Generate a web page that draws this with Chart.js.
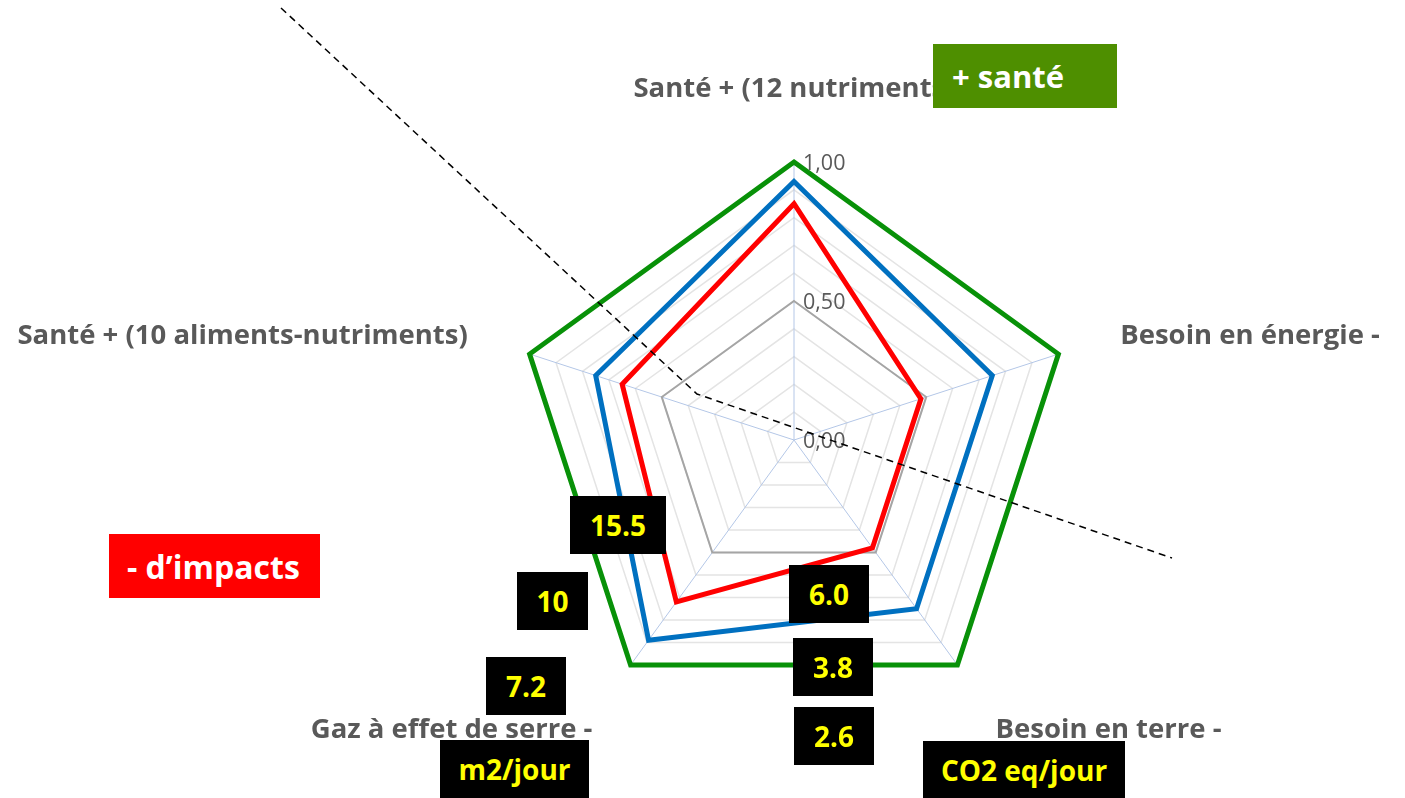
<!DOCTYPE html>
<html lang="fr">
<head>
<meta charset="utf-8">
<title>Santé et impacts des régimes</title>
<script src="https://cdn.jsdelivr.net/npm/chart.js@4.4.1/dist/chart.umd.min.js"></script>
<style>
    html, body { margin: 0; padding: 0; background: #fff; }
    #wrap { position: relative; width: 1405px; height: 798px; overflow: hidden; }
    #radar { position: absolute; left: 0; top: 0; }
    .tag {
        position: absolute;
        display: flex;
        align-items: center;
        justify-content: center;
        box-sizing: border-box;
        white-space: nowrap;
        font-family: 'Open Sans', sans-serif;
        font-weight: 700;
    }
    .tag.dark { background: #000; color: #ffff00; font-size: 28px; }
    .tag.good { background: #4e8f00; color: #fff; font-size: 31px; justify-content: flex-start; padding-left: 19px; }
    .tag.bad { background: #ff0000; color: #fff; font-size: 32px; justify-content: flex-start; padding-left: 18px; }
</style>
</head>
<body>
<div id="wrap">
    <canvas id="radar" width="1405" height="798"></canvas>
</div>

<script>
// axes, clockwise from the top
const axisLabels = [
    'Santé + (12 nutriments)',
    'Besoin en énergie -',
    'Besoin en terre -',
    'Gaz à effet de serre -',
    'Santé + (10 aliments-nutriments)'
];

// normalised scores (0 = worst, 1 = best)
const bestValues = [1, 1, 1, 1, 1];
const dietA = [0.93, 0.75, 0.75, 0.89, 0.75];
const dietB = [0.85, 0.48, 0.48, 0.72, 0.65];
const midValues = [0.5, 0.5, 0.5, 0.5, 0.5];

const tickValues = [0, 0.5, 1];

// boxed notes laid over the chart
const notes = [
    { text: '+ santé', cls: 'good', x: 933, y: 44, w: 184, h: 64 },
    { text: '- d’impacts', cls: 'bad', x: 109, y: 534, w: 211, h: 64 },
    { text: '15.5', cls: 'dark', x: 570, y: 496, w: 96, h: 58 },
    { text: '10', cls: 'dark', x: 517, y: 572, w: 71, h: 58 },
    { text: '7.2', cls: 'dark', x: 486, y: 657, w: 80, h: 58 },
    { text: 'm2/jour', cls: 'dark', x: 440, y: 740, w: 149, h: 58 },
    { text: '6.0', cls: 'dark', x: 789, y: 565, w: 80, h: 58 },
    { text: '3.8', cls: 'dark', x: 793, y: 638, w: 80, h: 58 },
    { text: '2.6', cls: 'dark', x: 794, y: 707, w: 80, h: 58 },
    { text: 'CO2 eq/jour', cls: 'dark', x: 923, y: 741, w: 202, h: 57 }
];

// dashed separator between "+ santé" and "- d'impacts"
const separator = [[281, 8], [697, 394], [1172, 558]];

const wrap = document.getElementById('wrap');
notes.forEach(n => {
    const el = document.createElement('div');
    el.className = 'tag ' + n.cls;
    el.style.left = n.x + 'px';
    el.style.top = n.y + 'px';
    el.style.width = n.w + 'px';
    el.style.height = n.h + 'px';
    el.textContent = n.text;
    wrap.appendChild(el);
});

const fmt = v => v.toFixed(2).replace('.', ',');

const overlayPlugin = {
    id: 'overlay',
    afterDatasetsDraw(chart) {
        const ctx = chart.ctx;
        const scale = chart.scales.r;

        ctx.save();

        // axis titles, pushed out past the outer ring
        ctx.font = 'bold 27.5px "Open Sans"';
        ctx.fillStyle = '#595959';
        ctx.textBaseline = 'alphabetic';
        axisLabels.forEach((text, i) => {
            const p = scale.getPointPosition(i, scale.drawingArea + 65);
            const deg = Math.round(((p.angle + Math.PI / 2) * 180 / Math.PI + 360) % 360);
            let dy = 0;
            if (deg === 0) {
                ctx.textAlign = 'center';
            } else if (deg < 180) {
                ctx.textAlign = 'left';
                dy = deg < 90 ? 10 : 21;
            } else {
                ctx.textAlign = 'right';
                dy = deg > 270 ? 10 : 21;
            }
            ctx.fillText(text, p.x, p.y + dy);
        });

        // value ticks on the vertical spoke
        ctx.font = '21.5px "Open Sans"';
        ctx.textAlign = 'left';
        tickValues.forEach(v => {
            const y = scale.yCenter - scale.getDistanceFromCenterForValue(v);
            ctx.fillText(fmt(v), scale.xCenter + 9, y + 8);
        });

        ctx.strokeStyle = '#000';
        ctx.lineWidth = 1.5;
        ctx.setLineDash([7, 5]);
        ctx.beginPath();
        separator.forEach(([x, y], i) => i ? ctx.lineTo(x, y) : ctx.moveTo(x, y));
        ctx.stroke();

        ctx.restore();
    }
};

const ctx = document.getElementById('radar').getContext('2d');
new Chart(ctx, {
    type: 'radar',
    data: {
        labels: axisLabels,
        datasets: [
            {
                label: 'Régime B',
                data: dietB,
                borderColor: '#ff0000',
                borderWidth: 5,
            },
            {
                label: 'Régime A',
                data: dietA,
                borderColor: '#0070c0',
                borderWidth: 5,
            },
            {
                label: 'Optimum',
                data: bestValues,
                borderColor: '#089108',
                borderWidth: 5,
            },
            {
                label: 'Moyenne',
                data: midValues,
                borderColor: '#a5a5a5',
                borderWidth: 2,
            },
        ],
    },
    options: {
        responsive: false,
        animation: false,
        devicePixelRatio: 1,
        layout: {
            padding: { left: 183, right: 0, top: 162, bottom: 80 },
        },
        elements: {
            line: { tension: 0, fill: false, borderJoinStyle: 'miter', backgroundColor: 'transparent' },
            point: { radius: 0, hoverRadius: 0 },
        },
        plugins: {
            legend: { display: false },
            tooltip: { enabled: false },
        },
        scales: {
            r: {
                min: 0,
                max: 1,
                ticks: { display: false, stepSize: 0.1 },
                grid: { color: '#e4e4e4', lineWidth: 1.5 },
                angleLines: { color: '#b4c7e7', lineWidth: 1 },
                pointLabels: { display: false },
            },
        },
    },
    plugins: [overlayPlugin],
});
</script>
</body>
</html>
